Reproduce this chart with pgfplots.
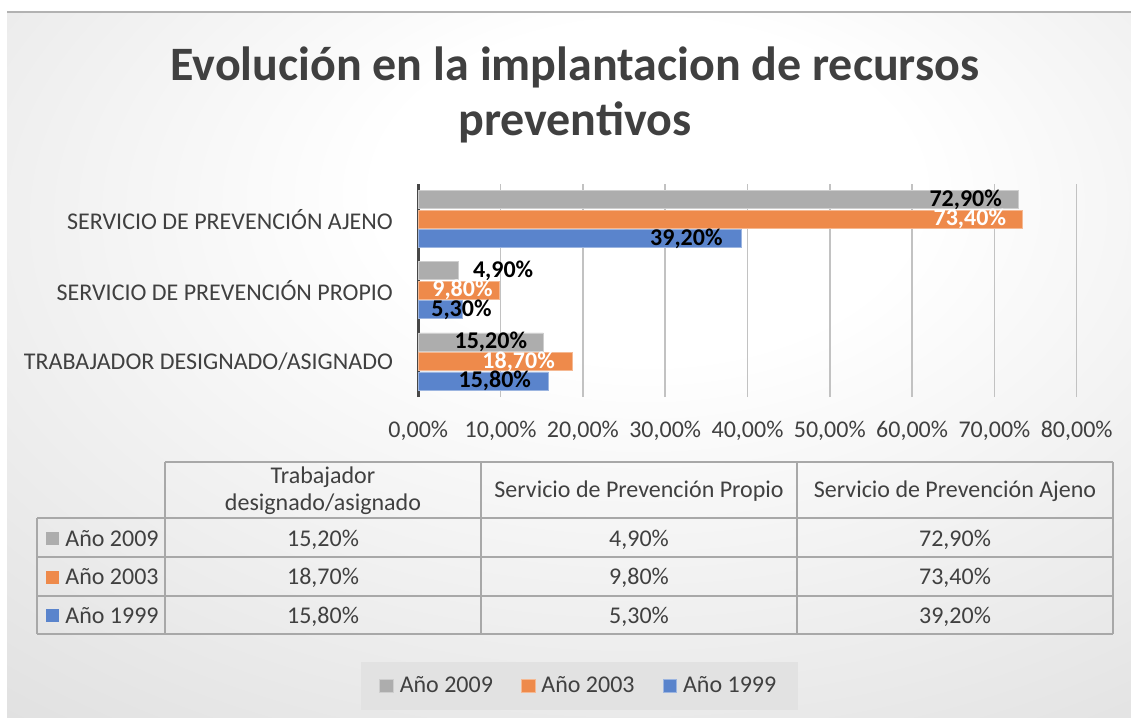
\documentclass[border=0pt]{standalone}
\usepackage{fontspec}
\setmainfont{Carlito}
\usepackage{pgfplots}
\usepackage{pgfplotstable}
\pgfplotsset{compat=1.18}

\definecolor{c09}{HTML}{ADADAD}
\definecolor{c03}{HTML}{EE8A4B}
\definecolor{c99}{HTML}{5A84CC}
\definecolor{txt}{HTML}{404040}
\definecolor{gridc}{HTML}{C2C2C2}
\definecolor{tabline}{HTML}{A8A8A8}
\definecolor{legfill}{HTML}{E2E2E2}

\pgfdeclareradialshading{bgshade}{\pgfpoint{4bp}{14bp}}{%
  color(0bp)=(white); color(12bp)=(white); color(75bp)=(black!24); color(100bp)=(black!26)}

\newcommand\fs{\fontsize{12}{14}\selectfont}

% y = category (0 bottom), x = value, dx = label right edge vs bar end (px)
\pgfplotstableread{
y x dx
0 15.2 -16
1 4.9 75
2 72.9 -16
}\tabA
\pgfplotstableread{
y x dx
0 18.7 -17
1 9.8 -6
2 73.4 -16
}\tabB
\pgfplotstableread{
y x dx
0 15.8 -17
1 5.3 30
2 39.2 -18
}\tabC

\begin{document}
\begin{tikzpicture}
\begin{scope}[x=0.5pt,y=-0.5pt]
  \fill[white] (0,0) rectangle (1131,718);
  \shade[shading=bgshade] (7,12) rectangle (1131,718);
  \draw[line width=0.8pt, black!30] (7,12) -- (1131,12);
  \node[anchor=base, inner sep=0pt, text=txt, font=\fontsize{24}{28}\selectfont\bfseries]
    at (575,80) {Evolución en la implantacion de recursos};
  \node[anchor=base, inner sep=0pt, text=txt, font=\fontsize{24}{28}\selectfont\bfseries]
    at (575,135) {preventivos};
  % data table
  \begin{scope}[tabline, line width=0.8pt]
    \draw (165,462) -- (1113,462);
    \foreach \yy in {518,557,596,634} \draw (37,\yy) -- (1113,\yy);
    \draw (37,518) -- (37,634);
    \foreach \xx in {165,481,797,1113} \draw (\xx,462) -- (\xx,634);
  \end{scope}
  \begin{scope}[every node/.style={anchor=base, inner sep=0pt, text=txt, font=\fs}]
    \node at (323,483) {Trabajador};
    \node at (323,510) {designado/asignado};
    \node at (639,497) {Servicio de Prevención Propio};
    \node at (955,497) {Servicio de Prevención Ajeno};
    \node at (323,546) {15,20\%};
    \node at (639,546) {4,90\%};
    \node at (955,546) {72,90\%};
    \node at (323,584) {18,70\%};
    \node at (639,584) {9,80\%};
    \node at (955,584) {73,40\%};
    \node at (323,623) {15,80\%};
    \node at (639,623) {5,30\%};
    \node at (955,623) {39,20\%};
    \node[anchor=base west] at (65,546) {Año 2009};
    \node[anchor=base west] at (65,584) {Año 2003};
    \node[anchor=base west] at (65,623) {Año 1999};
  \end{scope}
  \fill[c09] (46,532) rectangle (59,545);
  \fill[c03] (46,571) rectangle (59,584);
  \fill[c99] (46,609) rectangle (59,622);
\end{scope}

\begin{axis}[
  at={(209.15pt,-198.5pt)}, anchor=south west,
  scale only axis, width=329.2pt, height=106.75pt,
  xbar, bar width=9pt,
  xmin=0, xmax=80, ymin=-0.5, ymax=2.5,
  xtick={0,10,...,80}, ytick={0,1,2},
  yticklabels={TRABAJADOR DESIGNADO/ASIGNADO, SERVICIO DE PREVENCIÓN PROPIO, SERVICIO DE PREVENCIÓN AJENO},
  /pgf/number format/assume math mode=true,
  xticklabel={\pgfmathprintnumber[fixed,fixed zerofill,precision=2,use comma]{\tick}\%},
  major tick length=0pt,
  xmajorgrids, grid style={gridc, line width=0.75pt},
  axis lines*=left,
  x axis line style={draw=none},
  y axis line style={draw=black!72, line width=1.5pt},
  xticklabel style={font=\fs, text=txt, inner sep=0pt, anchor=north, yshift=-12pt},
  yticklabel style={font=\fs, text=txt, inner sep=0pt, anchor=east, xshift=-12.5pt},
  point meta=x,
  nodes near coords={\pgfmathprintnumber[fixed,fixed zerofill,precision=2,use comma]{\pgfplotspointmeta}\%},
  visualization depends on={\thisrow{dx} \as \dx},
  every node near coord/.append style={font=\fs\bfseries, inner sep=0pt, anchor=east, xshift={\dx*0.5pt}},
  every axis plot/.append style={legend image code/.code={\draw[#1] (0pt,-3.4pt) rectangle (6.8pt,3.4pt);}},
  legend style={at={(0.2453,-1.3536)}, anchor=center, legend columns=3, fill=legfill, draw=none,
    font=\fs, text=txt, inner xsep=9pt, inner ysep=5pt,
    /tikz/every odd column/.append style={column sep=1pt},
    /tikz/every even column/.append style={column sep=12pt}},
  legend cell align=left,
  clip=false,
]
\addplot[fill=c09, draw=c09!60!white, line width=0.4pt, bar shift=9.75pt,
  every node near coord/.append style={text=black}] table[x=x,y=y]{\tabA};
\addlegendentry{Año 2009}
\addplot[fill=c03, draw=c03!60!white, line width=0.4pt, bar shift=0pt,
  every node near coord/.append style={text=white}] table[x=x,y=y]{\tabB};
\addlegendentry{Año 2003}
\addplot[fill=c99, draw=c99!60!white, line width=0.4pt, bar shift=-9.75pt,
  every node near coord/.append style={text=black}] table[x=x,y=y]{\tabC};
\addlegendentry{Año 1999}
\end{axis}
\pgfresetboundingbox
\useasboundingbox (0,0) rectangle (565.5pt,-359pt);
\end{tikzpicture}
\end{document}
